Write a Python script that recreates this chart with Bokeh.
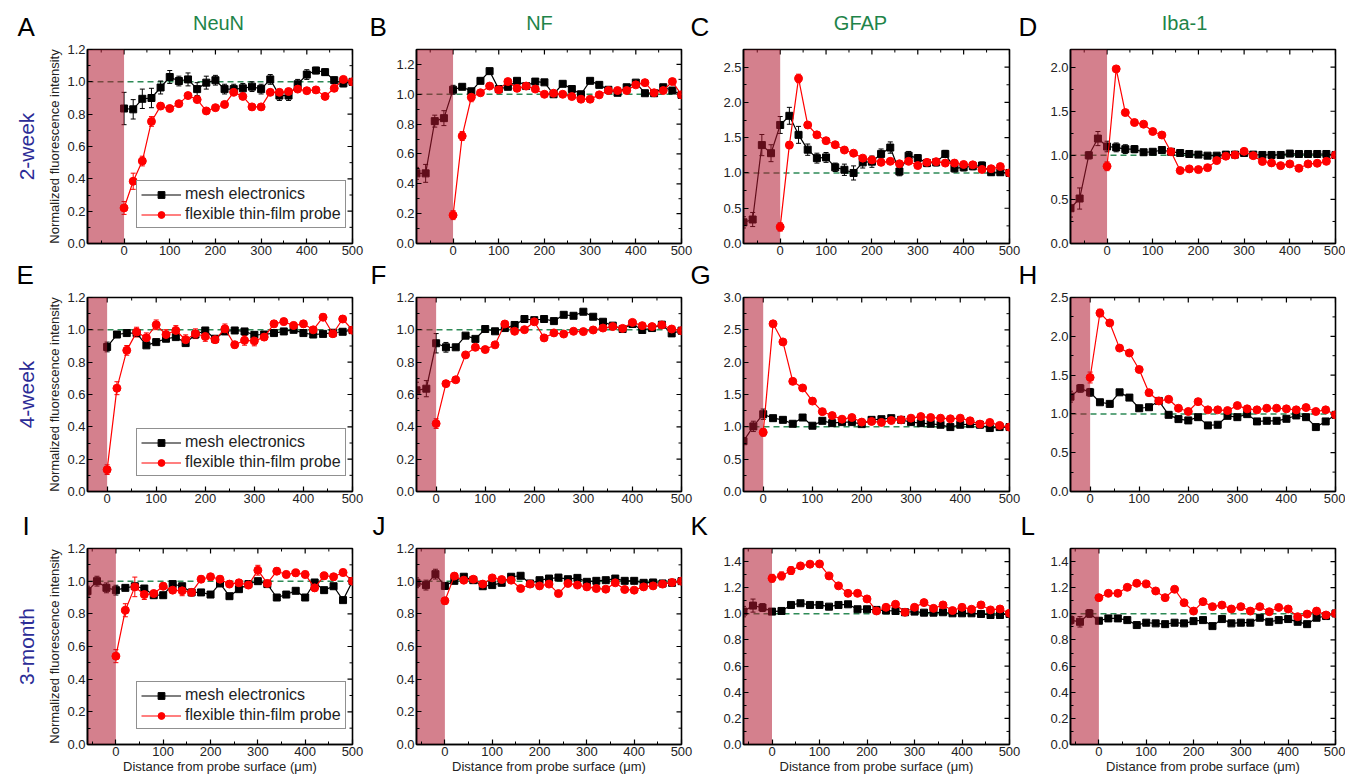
import math
from bokeh.plotting import figure
from bokeh.layouts import column, row
from bokeh.models import (Range1d, FixedTicker, PrintfTickFormatter, Title,
                          Span, Legend, LegendItem, Whisker, ColumnDataSource, TeeHead)
from bokeh.core.properties import value
from bokeh.embed import file_html
from bokeh.resources import INLINE

# ---------------- data ----------------
marker_names = ["NeuN", "NF", "GFAP", "Iba-1"]
time_points = ["2-week", "4-week", "3-month"]
panel_letters = [["A", "B", "C", "D"], ["E", "F", "G", "H"], ["I", "J", "K", "L"]]
x_start = [[-80, -80, -80, -80], [-40, -40, -40, -40], [-60, -60, -60, -60]]
x_end = 500
probe_surface = 0
y_top = [[1.2, 1.3, 2.75, 2.2], [1.2, 1.2, 3.0, 2.5], [1.2, 1.2, 1.5, 1.5]]
y_tick_step = [[0.2, 0.2, 0.5, 0.5], [0.2, 0.2, 0.5, 0.5], [0.2, 0.2, 0.2, 0.2]]
x_tick_step = 100
baseline = 1.0

dist = [0, 20, 40, 60, 80, 100, 120, 140, 160, 180, 200, 220, 240, 260, 280,
        300, 320, 340, 360, 380, 400, 420, 440, 460, 480, 500]
dist_neg80 = [-80, -60, -40, -20]
dist_neg60 = [-60, -40, -20]
dist_neg40 = [-40, -20]

# mesh electronics (black)
mesh_A = [0.835, 0.83, 0.895, 0.90, 0.965, 1.03, 1.005, 1.015, 0.955, 0.995, 1.01, 0.955, 0.955,
          0.96, 0.97, 0.955, 1.015, 0.915, 0.915, 0.985, 1.045, 1.07, 1.06, 1.01, 0.99, 1.0]
mesh_B = [0.47, 0.47, 0.82, 0.84, 1.03, 1.05, 1.02, 1.09, 1.155, 1.035, 1.05, 1.09, 1.055, 1.085,
          1.08, 1.0, 1.07, 1.035, 1.0, 1.09, 1.063, 1.03, 1.01, 1.047, 1.078, 1.007, 1.007, 1.047,
          1.025, 0.996]
mesh_C = [0.30, 0.34, 1.395, 1.28, 1.68, 1.81, 1.54, 1.33, 1.21, 1.22, 1.08, 1.045, 1.0, 1.15,
          1.16, 1.27, 1.36, 1.02, 1.245, 1.21, 1.14, 1.15, 1.27, 1.065, 1.08, 1.095, 1.105, 1.01,
          1.01, 1.0]
mesh_D = [0.40, 0.51, 1.0, 1.19, 1.10, 1.09, 1.07, 1.07, 1.035, 1.04, 1.06, 1.04, 1.026, 1.015,
          1.008, 0.996, 0.996, 1.008, 1.008, 1.026, 1.008, 1.004, 1.004, 1.004, 1.02, 1.015, 1.015,
          1.015, 1.015, 1.004]
mesh_E = [0.894, 0.971, 0.98, 0.98, 0.904, 0.924, 0.945, 0.955, 0.918, 0.971, 0.996, 0.945, 0.99,
          0.996, 0.99, 0.969, 0.971, 0.98, 0.99, 1.0, 0.98, 0.971, 0.975, 0.982, 0.988, 0.998]
mesh_F = [0.626, 0.636, 0.917, 0.892, 0.892, 0.964, 0.944, 1.005, 0.991, 1.011, 1.03, 1.067, 1.06,
          1.067, 1.054, 1.093, 1.087, 1.112, 1.081, 1.05, 1.026, 1.005, 1.036, 0.999, 1.011, 1.032,
          0.978, 0.995]
mesh_G = [0.778, 1.007, 1.195, 1.134, 1.108, 1.047, 1.144, 1.017, 1.093, 1.057, 1.073, 1.073,
          1.042, 1.108, 1.118, 1.134, 1.108, 1.073, 1.057, 1.047, 1.032, 0.996, 1.032, 1.042, 1.032,
          0.981, 0.996, 0.996]
mesh_H = [1.222, 1.329, 1.278, 1.15, 1.129, 1.278, 1.21, 1.073, 1.086, 1.167, 0.988, 0.933, 0.916,
          0.958, 0.852, 0.86, 0.975, 0.958, 0.997, 0.903, 0.911, 0.911, 0.937, 0.98, 0.958, 0.83,
          0.903, 0.988]
mesh_I = [0.939, 1.0, 0.959, 0.945, 0.959, 0.969, 0.955, 0.914, 0.914, 0.982, 0.969, 0.931, 0.931,
          0.918, 0.986, 0.908, 0.951, 0.982, 1.0, 0.982, 0.9, 0.918, 0.941, 0.9, 0.992, 0.945,
          0.969, 0.884, 1.0]
mesh_J = [0.99, 0.976, 1.043, 0.971, 1.002, 1.027, 1.006, 0.969, 0.976, 0.99, 1.027, 1.033, 0.986,
          1.006, 1.016, 1.022, 1.012, 1.02, 0.996, 1.002, 1.006, 1.016, 1.002, 1.002, 0.99, 0.992,
          0.986, 0.99, 1.0]
mesh_K = [1.017, 1.063, 1.048, 1.017, 1.022, 1.068, 1.081, 1.068, 1.068, 1.055, 1.068, 1.073,
          1.035, 1.035, 1.03, 1.025, 1.022, 1.012, 1.017, 1.009, 1.009, 1.012, 1.004, 1.004, 1.004,
          0.999, 0.991, 0.991, 0.999]
mesh_L = [0.952, 0.939, 1.003, 0.947, 0.965, 0.965, 0.952, 0.914, 0.932, 0.927, 0.921, 0.932,
          0.927, 0.944, 0.952, 0.906, 0.96, 0.927, 0.932, 0.932, 0.97, 0.939, 0.952, 0.96, 0.939,
          0.921, 0.97, 0.983, 1.003]

# flexible thin-film probe (red)
probe_A = [0.22, 0.385, 0.51, 0.755, 0.85, 0.835, 0.865, 0.915, 0.89, 0.82, 0.84, 0.86, 0.935,
           0.91, 0.845, 0.845, 0.935, 0.935, 0.94, 0.955, 0.945, 0.95, 0.91, 0.96, 1.015, 1.0]
probe_B = [0.19, 0.72, 0.98, 1.01, 1.055, 1.03, 1.085, 1.04, 1.055, 1.035, 1.0, 1.007, 1.0, 0.985,
           0.967, 0.967, 0.996, 1.025, 1.025, 1.025, 1.063, 1.078, 1.01, 1.025, 1.085, 0.996]
probe_C = [0.235, 1.395, 2.34, 1.68, 1.54, 1.457, 1.40, 1.325, 1.28, 1.21, 1.185, 1.15, 1.165,
           1.13, 1.165, 1.105, 1.15, 1.16, 1.14, 1.14, 1.12, 1.115, 1.05, 1.06, 1.09, 1.0]
probe_D = [0.876, 1.98, 1.485, 1.372, 1.353, 1.27, 1.23, 1.04, 0.827, 0.846, 0.838, 0.86, 0.94,
           0.99, 1.004, 1.045, 0.996, 0.93, 0.914, 0.883, 0.902, 0.853, 0.902, 0.91, 0.932, 1.004]
probe_E = [0.135, 0.639, 0.873, 0.986, 0.951, 1.031, 0.971, 0.996, 0.939, 0.976, 0.959, 0.939,
           1.006, 0.908, 0.935, 0.931, 0.955, 1.037, 1.051, 1.027, 1.037, 1.0, 1.078, 0.976, 1.067,
           0.998]
probe_F = [0.42, 0.667, 0.691, 0.845, 0.892, 0.878, 0.907, 1.036, 0.991, 1.001, 1.05, 0.95, 0.981,
           0.974, 0.991, 0.989, 0.999, 1.011, 1.02, 1.009, 1.046, 1.026, 1.02, 1.03, 1.005, 0.995]
probe_G = [0.915, 2.593, 2.313, 1.703, 1.601, 1.398, 1.235, 1.174, 1.118, 1.144, 1.073, 1.083,
           1.068, 1.098, 1.108, 1.134, 1.159, 1.144, 1.134, 1.124, 1.134, 1.093, 1.042, 1.068,
           1.022, 0.996]
probe_H = [1.469, 2.30, 2.172, 1.848, 1.785, 1.572, 1.273, 1.167, 1.188, 1.073, 1.031, 1.158,
           1.052, 1.052, 1.043, 1.107, 1.065, 1.052, 1.073, 1.073, 1.065, 1.052, 1.082, 1.031,
           1.052, 0.988]
probe_I = [0.541, 0.822, 0.965, 0.918, 0.924, 0.969, 0.945, 0.941, 0.931, 1.012, 1.027, 1.012,
           0.982, 0.99, 0.976, 1.067, 0.986, 1.061, 1.041, 1.051, 1.041, 0.959, 1.033, 1.027,
           1.053, 1.0]
probe_J = [0.88, 1.031, 1.006, 1.012, 0.982, 1.02, 1.01, 1.006, 0.955, 0.982, 0.971, 0.982, 0.924,
           0.986, 0.976, 0.965, 0.955, 0.951, 0.99, 0.949, 0.945, 0.965, 0.971, 0.982, 0.992, 1.0]
probe_K = [1.272, 1.29, 1.331, 1.367, 1.38, 1.382, 1.29, 1.214, 1.157, 1.157, 1.114, 1.022, 1.05,
           1.073, 1.012, 1.05, 1.086, 1.042, 1.068, 1.025, 1.05, 1.035, 1.068, 1.03, 1.037, 1.004]
probe_L = [1.124, 1.157, 1.157, 1.203, 1.234, 1.229, 1.175, 1.124, 1.188, 1.085, 1.021, 1.093,
           1.055, 1.067, 1.037, 1.055, 1.021, 1.055, 1.016, 1.049, 1.037, 0.978, 0.998, 1.021,
           0.991, 1.003]

# error bars (leading points of each series)
err_mesh_A = [0.1, 0.06, 0.06, 0.06, 0.04, 0.04, 0.03, 0.04, 0.04, 0.04, 0.03, 0.03, 0.03, 0.03,
              0.03, 0.03, 0.03, 0.03, 0.03, 0.03, 0.03, 0.02, 0.02, 0.02, 0.02]
err_probe_A = [0.04, 0.05, 0.03, 0.03, 0.02]
err_mesh_B = [0.04, 0.06, 0.04, 0.05, 0.03]
err_probe_B = [0.03, 0.03, 0.03]
err_mesh_C = [0.08, 0.1, 0.15, 0.12, 0.12, 0.12, 0.12, 0.08, 0.07, 0.07, 0.06, 0.08, 0.1, 0.08,
              0.08, 0.07, 0.08, 0.06, 0.06, 0.05, 0.05, 0.05, 0.05, 0.05, 0.05, 0.05, 0.05, 0.04,
              0.04]
err_probe_C = [0.06, 0.05, 0.06]
err_mesh_D = [0.1, 0.12, 0.04, 0.08, 0.06, 0.05, 0.05, 0.04, 0.02, 0.02, 0.02]
err_probe_D = [0.05]
err_mesh_E = [0.03]
err_probe_E = [0.03, 0.04, 0.03, 0.03, 0.03, 0.03, 0.03, 0.03, 0.03, 0.03, 0.03, 0.02, 0.03, 0.02,
               0.03, 0.03, 0.02, 0.02, 0.02, 0.02, 0.02, 0.02, 0.02, 0.02, 0.02]
err_mesh_F = [0.05, 0.05, 0.06, 0.03]
err_probe_F = [0.03]
err_mesh_G = [0.05, 0.08, 0.08]
err_probe_G = [0.06]
err_mesh_H = [0.07, 0.05, 0.05, 0.0, 0.0, 0.03]
err_probe_H = [0.07, 0.05]
err_mesh_I = [0.03, 0.03, 0.03, 0.03]
err_probe_I = [0.04, 0.04, 0.06, 0.03, 0.02, 0.02, 0.02, 0.03, 0.02, 0.02, 0.02, 0.02, 0.02, 0.02,
               0.02, 0.03, 0.02, 0.02, 0.02, 0.02, 0.02, 0.02, 0.02, 0.02, 0.02]
err_mesh_J = [0.03, 0.03, 0.03, 0.02]
err_probe_J = [0.02]
err_mesh_K = [0.04, 0.05, 0.03]
err_probe_K = [0.03, 0.03, 0.03, 0.02, 0.02, 0.02]
err_mesh_L = [0.03, 0.04, 0.03]
err_probe_L = []

series = {
    "A": (dist, mesh_A, err_mesh_A, probe_A, err_probe_A),
    "B": (dist_neg80 + dist, mesh_B, err_mesh_B, probe_B, err_probe_B),
    "C": (dist_neg80 + dist, mesh_C, err_mesh_C, probe_C, err_probe_C),
    "D": (dist_neg80 + dist, mesh_D, err_mesh_D, probe_D, err_probe_D),
    "E": (dist, mesh_E, err_mesh_E, probe_E, err_probe_E),
    "F": (dist_neg40 + dist, mesh_F, err_mesh_F, probe_F, err_probe_F),
    "G": (dist_neg40 + dist, mesh_G, err_mesh_G, probe_G, err_probe_G),
    "H": (dist_neg40 + dist, mesh_H, err_mesh_H, probe_H, err_probe_H),
    "I": (dist_neg60 + dist, mesh_I, err_mesh_I, probe_I, err_probe_I),
    "J": (dist_neg60 + dist, mesh_J, err_mesh_J, probe_J, err_probe_J),
    "K": (dist_neg60 + dist, mesh_K, err_mesh_K, probe_K, err_probe_K),
    "L": (dist_neg60 + dist, mesh_L, err_mesh_L, probe_L, err_probe_L),
}

# ---------------- layout / style ----------------
FONT = "Liberation Sans"
FW = [265, 265, 266, 265]
BL = [87, 46, 43, 40]
BR = [18, 19, 21, 10]
TOTAL_W = sum(FW) + sum(BL) + sum(BR)
FH = [194, 194, 196]
BT = [7, 7, 7]
BB = [17, 18, 31]
HEADER_H = [42, 30, 32]
letter_x = [[17, 369, 690, 1018], [16, 370, 690, 1018], [22, 372, 690, 1020]]
letter_y = [16, 16, 16]
title_x = [218, 539, 860, 1184]
title_y = 20

MESH_COLOR = "black"
PROBE_COLOR = "#ff0000"
SHADE_COLOR = "#b0172f"
DASH_COLOR = "#2e8b57"
TITLE_COLOR = "#1e8449"
ROW_COLOR = "#2c2c96"
TEXT_COLOR = "#222222"


def style_axis(ax):
    ax.axis_line_width = 1.6
    ax.axis_line_color = "black"
    ax.major_tick_in = 5
    ax.major_tick_out = 0
    ax.minor_tick_in = 3
    ax.minor_tick_out = 0
    ax.major_tick_line_width = 1.2
    ax.minor_tick_line_width = 1.0
    ax.major_label_text_font = FONT
    ax.major_label_text_font_size = "13px"
    ax.major_label_text_color = TEXT_COLOR
    ax.major_label_standoff = 2


def multiples(lo, hi, step):
    k0 = math.ceil(lo / step - 1e-9)
    k1 = math.floor(hi / step + 1e-9)
    return [round(k * step, 6) for k in range(k0, k1 + 1)]


def add_whiskers(p, xs, ys, errs, color):
    pts = [(x, y, e) for x, y, e in zip(xs, ys, errs) if e > 0]
    if not pts:
        return
    src = ColumnDataSource(dict(x=[t[0] for t in pts],
                                lo=[t[1] - t[2] for t in pts],
                                hi=[t[1] + t[2] for t in pts]))
    w = Whisker(source=src, base="x", lower="lo", upper="hi", line_color=color, line_width=1,
                upper_head=TeeHead(size=5, line_color=color, line_width=1),
                lower_head=TeeHead(size=5, line_color=color, line_width=1))
    p.add_layout(w)


def header(r):
    h = HEADER_H[r]
    hp = figure(width=TOTAL_W, height=h, x_range=Range1d(0, TOTAL_W), y_range=Range1d(0, h),
                output_backend="svg", toolbar_location=None, x_axis_type=None,
                y_axis_type=None, min_border_left=0, min_border_right=0, min_border_top=0,
                min_border_bottom=0)
    hp.outline_line_color = None
    hp.background_fill_color = "white"
    hp.border_fill_color = "white"
    hp.grid.visible = False
    hp.text(x=letter_x[r], y=[letter_y[r]] * 4, text=panel_letters[r],
            text_font=value(FONT), text_font_size=value("26px"), text_color="black",
            text_align="left", text_baseline="alphabetic")
    if r == 0:
        hp.text(x=title_x, y=[title_y] * 4, text=marker_names,
                text_font=value(FONT), text_font_size=value("20px"), text_color=TITLE_COLOR,
                text_align="center", text_baseline="alphabetic")
    return hp


blocks = []
for r in range(3):
    blocks.append(header(r))
    figs = []
    for c in range(4):
        letter = panel_letters[r][c]
        mx, my, me, py, pe = series[letter]
        xs0 = x_start[r][c]
        yt = y_top[r][c]
        ys = y_tick_step[r][c]
        p = figure(frame_width=FW[c], frame_height=FH[r],
                   x_range=Range1d(xs0, x_end), y_range=Range1d(0, yt),
                   output_backend="svg", toolbar_location=None,
                   min_border_left=BL[c], min_border_right=BR[c],
                   min_border_top=BT[r], min_border_bottom=BB[r])
        p.background_fill_color = "white"
        p.border_fill_color = "white"
        p.outline_line_color = "black"
        p.outline_line_width = 1.6
        p.xgrid.visible = False
        p.ygrid.visible = False

        x_major = multiples(xs0, x_end, x_tick_step)
        x_minor = [v for v in multiples(xs0, x_end, x_tick_step / 2) if v not in x_major]
        y_major = multiples(0, yt, ys)
        y_minor = [v for v in multiples(0, yt, ys / 2) if v not in y_major]
        p.xaxis.ticker = FixedTicker(ticks=x_major, minor_ticks=x_minor)
        p.yaxis.ticker = FixedTicker(ticks=y_major, minor_ticks=y_minor)
        p.yaxis.formatter = PrintfTickFormatter(format="%.1f")
        style_axis(p.xaxis[0])
        style_axis(p.yaxis[0])
        if c == 0:
            ya = p.yaxis[0]
            ya.axis_label = "Normalized fluorescence intensity"
            ya.axis_label_text_font = FONT
            ya.axis_label_text_font_size = "13px"
            ya.axis_label_text_font_style = "normal"
            ya.axis_label_text_color = TEXT_COLOR
            ya.axis_label_standoff = 2
            p.add_layout(Title(text=time_points[r], align="center", text_font=FONT,
                               text_font_size="21px", text_font_style="normal",
                               text_color=ROW_COLOR, standoff=14), "left")
        if r == 2:
            xa = p.xaxis[0]
            xa.axis_label = "Distance from probe surface (\u03bcm)"
            xa.axis_label_text_font = FONT
            xa.axis_label_text_font_size = "13px"
            xa.axis_label_text_font_style = "normal"
            xa.axis_label_text_color = TEXT_COLOR
            xa.axis_label_standoff = 0

        # inward tick marks on the top and right frame edges (clipped dashes)
        p.scatter(x_major, [yt] * len(x_major), marker="dash", angle=math.pi / 2, size=10,
                  line_color="black", line_width=1.2)
        p.scatter(x_minor, [yt] * len(x_minor), marker="dash", angle=math.pi / 2, size=6,
                  line_color="black", line_width=1.0)
        p.scatter([x_end] * len(y_major), y_major, marker="dash", size=10,
                  line_color="black", line_width=1.2)
        p.scatter([x_end] * len(y_minor), y_minor, marker="dash", size=6,
                  line_color="black", line_width=1.0)

        # reference line at 1.0
        p.add_layout(Span(location=baseline, dimension="width", line_color=DASH_COLOR,
                          line_dash="6 4", line_width=1.5, level="underlay"))

        # mesh electronics
        ml = p.line(mx, my, line_color=MESH_COLOR, line_width=1.2)
        ms = p.scatter(mx, my, marker="square", size=7, fill_color=MESH_COLOR,
                       line_color=MESH_COLOR)
        add_whiskers(p, mx, my, me, MESH_COLOR)

        # probe footprint shading
        p.quad(left=[xs0], right=[probe_surface], bottom=[0], top=[yt],
               fill_color=SHADE_COLOR, fill_alpha=0.55, line_color=None)

        # flexible thin-film probe
        pl = p.line(dist, py, line_color=PROBE_COLOR, line_width=1.2)
        ps = p.scatter(dist, py, marker="circle", size=8, fill_color=PROBE_COLOR,
                       line_color=PROBE_COLOR)
        add_whiskers(p, dist, py, pe, PROBE_COLOR)

        if c == 0:
            lg = Legend(items=[LegendItem(label="mesh electronics", renderers=[ml, ms]),
                               LegendItem(label="flexible thin-film probe", renderers=[pl, ps])],
                        location=(49, 15), margin=0, padding=4, spacing=2,
                        glyph_width=40, glyph_height=17, label_height=17, label_standoff=4,
                        label_text_font=FONT, label_text_font_size="16px",
                        label_text_color=TEXT_COLOR,
                        border_line_color=TEXT_COLOR, border_line_width=1,
                        background_fill_color="white", background_fill_alpha=1)
            p.add_layout(lg)
        figs.append(p)
    blocks.append(row(*figs, spacing=0))

layout = column(*blocks, spacing=0)
open("out.html", "w").write(file_html(layout, INLINE))
